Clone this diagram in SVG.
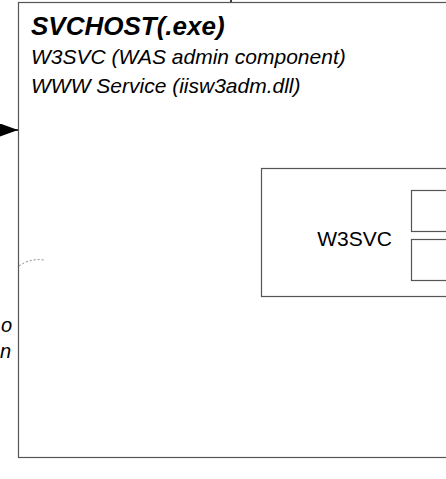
<svg xmlns="http://www.w3.org/2000/svg" width="446" height="479" viewBox="0 0 446 479">
<style>
.box{fill:#fff;stroke:#555;stroke-width:1.2}
.t{font-family:"Liberation Sans",Arial,sans-serif;fill:#000}
.i{font-style:italic}
.conn{fill:none;stroke:#000;stroke-width:1.5}
</style>
<defs>
<marker id="ah" markerWidth="18" markerHeight="13" refX="18" refY="6.5" orient="auto" markerUnits="userSpaceOnUse">
<path d="M0,0 L18,6.5 L0,13 z" fill="#000"/>
</marker>
</defs>
<g id="svchost">
<rect class="box" x="18.5" y="2.5" width="440" height="455"/>
<text class="t i" x="31" y="35" font-size="26" font-weight="bold">SVCHOST(.exe)</text>
<text class="t i" x="31" y="64" font-size="21">W3SVC (WAS admin component)</text>
<text class="t i" x="31" y="93" font-size="21">WWW Service (iisw3adm.dll)</text>
</g>
<g id="w3svc">
<rect class="box" x="261.5" y="168.5" width="200" height="128"/>
<text class="t" x="354.5" y="246" font-size="21" text-anchor="middle">W3SVC</text>
</g>
<g id="sub1"><rect class="box" x="411.5" y="190.5" width="50" height="41"/></g>
<g id="sub2"><rect class="box" x="411.5" y="239.5" width="50" height="41"/></g>
<g id="labels">
<text class="t i" x="1" y="332" font-size="20">o</text>
<text class="t i" x="0" y="358" font-size="20">n</text>
</g>
<g id="connectors">
<line class="conn" x1="-5" y1="130" x2="18" y2="130" marker-end="url(#ah)"/>
<line class="conn" x1="231" y1="-2" x2="231" y2="2" stroke-width="1"/>
<path d="M19,266 Q30,258 44,260" fill="none" stroke="#666" stroke-width="0.8" stroke-dasharray="2,2"/>
</g>
</svg>
